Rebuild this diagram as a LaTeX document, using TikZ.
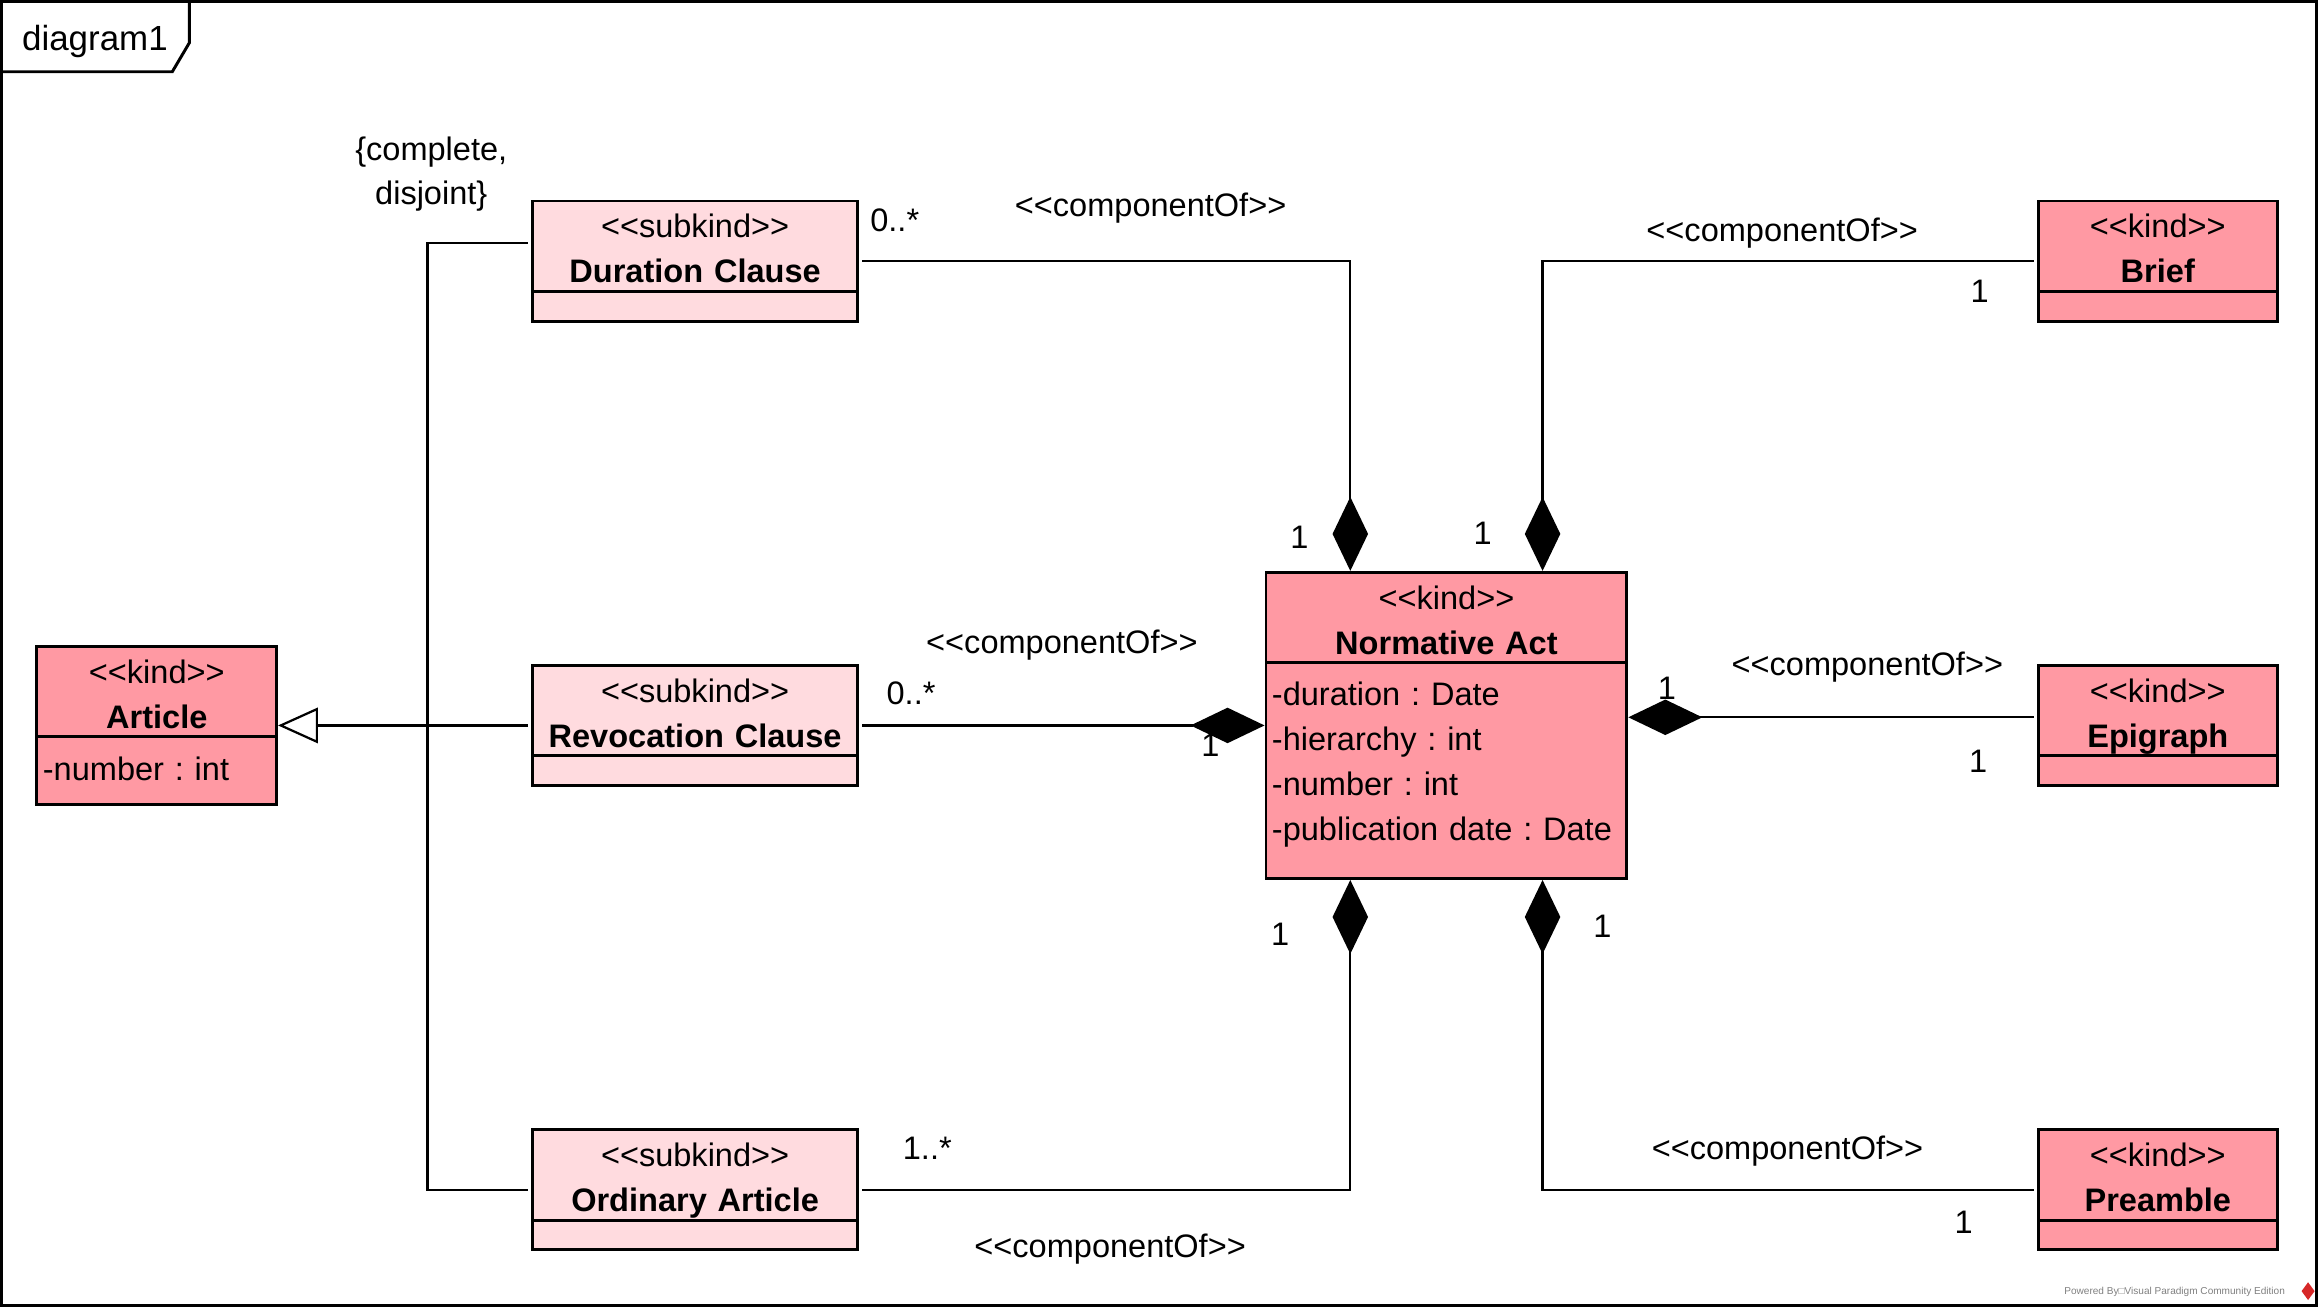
\documentclass[tikz,border=0pt]{standalone}
\usepackage{fontspec}
\setmainfont{Liberation Sans}
\usepackage{tikz}
\usetikzlibrary{positioning,shapes.multipart,arrows.meta}

\definecolor{kindfill}{RGB}{255,153,163}
\definecolor{subfill}{RGB}{255,219,223}
\definecolor{vpred}{RGB}{214,40,40}

\newcommand{\stereo}[1]{<{}<#1>{}>}
\newcommand{\umlhead}[2]{\rule{0pt}{12pt}\stereo{#1}\\\textbf{#2}\rule[-2.4pt]{0pt}{2.4pt}}
\newcommand{\umlnone}{\rule{0pt}{9pt}}
\frenchspacing

\begin{document}
\begin{tikzpicture}[shorten >=1pt,node distance=157pt,on grid,
	font=\fontsize{11}{15.2}\selectfont,
	uml/.style={rectangle split,rectangle split parts=2,draw,line width=1pt,inner xsep=2pt,inner ysep=0pt,align=center},
	kind/.style={uml,fill=kindfill,text width=#1},
	kind/.default=77pt,
	subkind/.style={uml,fill=subfill,text width=106pt},
	link/.style={line width=.75pt},
	compo/.style={link,{Diamond[length=25pt,width=12pt]}-},
	gen/.style={link,{Triangle[open,length=13.5pt,width=12pt]}-},
	elbow/.style={to path={|- (\tikztotarget)}}]
	\useasboundingbox (0,0) rectangle (784pt,-442pt);
	\draw[line width=1pt,shorten >=0pt] (0.5pt,-0.5pt) rectangle (783.25pt,-441.25pt);
	\draw[line width=1pt,shorten >=0pt] (0,-24.25pt) -- (58.25pt,-24.25pt) -- (64pt,-14.5pt) -- (64pt,0);
	\node[anchor=base west,inner sep=0pt,font=\fontsize{11.8}{14}\selectfont] (tab) at (7.3pt,-17.1pt) {diagram1};

	\node[subkind] (c_rev) at (235pt,-245.25pt) {\umlhead{subkind}{Revocation Clause}\nodepart{two}\umlnone};
	\node[subkind] (c_dur) [above=of c_rev] {\umlhead{subkind}{Duration Clause}\nodepart{two}\umlnone};
	\node[subkind] (c_ord) [below=of c_rev] {\umlhead{subkind}{Ordinary Article}\nodepart{two}\umlnone};
	\node[kind] (k_art) [left=182pt of c_rev] {\umlhead{kind}{Article}\nodepart{two}\raggedright\rule{0pt}{14.25pt}-number : int\rule[-7.75pt]{0pt}{7.75pt}\par};
	\node[kind=118pt] (n_act) [right=254pt of c_rev] {\umlhead{kind}{Normative Act}\nodepart{two}\raggedright\rule{0pt}{14pt}-duration : Date\\-hierarchy : int\\-number : int\\-publication date : Date\rule[-12.3pt]{0pt}{12.3pt}\par};
	\node[kind] (k_epi) [right=240.5pt of n_act] {\umlhead{kind}{Epigraph}\nodepart{two}\umlnone};
	\node[kind] (k_brf) [above=of k_epi] {\umlhead{kind}{Brief}\nodepart{two}\umlnone};
	\node[kind] (k_pre) [below=of k_epi] {\umlhead{kind}{Preamble}\nodepart{two}\umlnone};

	\coordinate (g_top) at ([xshift=-35pt,yshift=6pt]c_dur.west);
	\draw[link,shorten <=1pt] ([yshift=6pt]c_dur.west) -- (g_top) |- (c_ord.west);
	\draw[gen] (k_art.east) -- (c_rev.west);
	\node[align=center,font=\fontsize{11}{14.75}\selectfont] (g_set) [above right=23.4pt and 1.3pt of g_top,anchor=center] {\{complete,\\disjoint\}};

	\path[compo]
	([xshift=-32.5pt]n_act.north) edge[elbow] (c_dur.east)
	([xshift=32.5pt]n_act.north) edge[elbow] (k_brf.west)
	(n_act.west) edge (c_rev.east)
	([yshift=2.75pt]n_act.east) edge ([yshift=2.75pt]k_epi.west)
	([xshift=-32.5pt]n_act.south) edge[elbow] (c_ord.east)
	([xshift=32.5pt]n_act.south) edge[elbow] (k_pre.west);

	\node (m_dur) [above right=13.75pt and 12pt of c_dur.east,anchor=center] {0..*};
	\node (s_dur) [above right=18pt and 98.5pt of c_dur.east,anchor=center] {\stereo{componentOf}};
	\node (o_dur) [above left=11.5pt and 49.7pt of n_act.north,anchor=center] {1};
	\node (s_brf) [above left=9.4pt and 86pt of k_brf.west,anchor=center] {\stereo{componentOf}};
	\node (m_brf) [below left=10.25pt and 19.25pt of k_brf.west,anchor=center] {1};
	\node (o_brf) [above right=12.6pt and 12.25pt of n_act.north,anchor=center] {1};
	\node (s_rev) [above right=27pt and 68.5pt of c_rev.east,anchor=center] {\stereo{componentOf}};
	\node (m_rev) [above right=10.85pt and 17.5pt of c_rev.east,anchor=center] {0..*};
	\node (o_rev) [below left=6.8pt and 18.3pt of n_act.west,anchor=center] {1};
	\node (s_epi) [above left=19.6pt and 57.2pt of k_epi.west,anchor=center] {\stereo{componentOf}};
	\node (m_epi) [below left=12.25pt and 19.7pt of k_epi.west,anchor=center] {1};
	\node (o_epi) [above right=12.5pt and 13pt of n_act.east,anchor=center] {1};
	\node (m_ord) [above right=14pt and 23pt of c_ord.east,anchor=center] {1..*};
	\node (s_ord) [below right=20pt and 84.8pt of c_ord.east,anchor=center] {\stereo{componentOf}};
	\node (o_ord) [below left=18.5pt and 56.25pt of n_act.south,anchor=center] {1};
	\node (s_pre) [above left=13.2pt and 84.2pt of k_pre.west,anchor=center] {\stereo{componentOf}};
	\node (m_pre) [below left=11pt and 24.65pt of k_pre.west,anchor=center] {1};
	\node (o_pre) [below right=15.5pt and 52.75pt of n_act.south,anchor=center] {1};

	\node[anchor=east,text=gray,font=\fontsize{3.4}{4}\selectfont] (vp_note) at (776pt,-436.75pt) {Powered By□Visual Paradigm Community Edition};
	\fill[vpred] (780.3pt,-433.5pt) -- (782.5pt,-436.5pt) -- (780.3pt,-439.5pt) -- (778.1pt,-436.5pt) -- cycle;
\end{tikzpicture}
\end{document}
